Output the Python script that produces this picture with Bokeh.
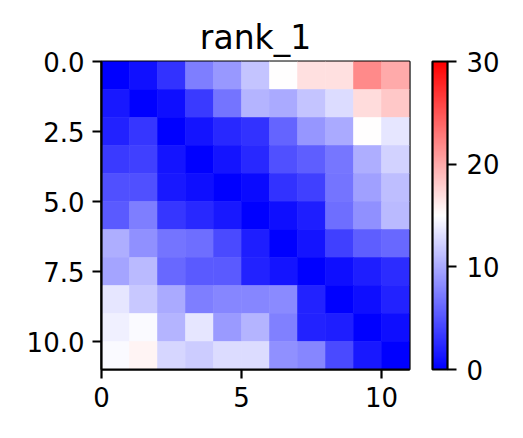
from bokeh.plotting import figure
from bokeh.models import (LinearColorMapper, ColorBar, FixedTicker, Range1d,
                          PrintfTickFormatter, ColumnDataSource)
from bokeh.transform import transform
from bokeh.embed import file_html
from bokeh.resources import INLINE

# matrix values, one list per row (top row first)
row_0 = [0.0, 1.0, 3.0, 7.4, 9.0, 11.5, 15.1, 16.8, 16.8, 21.8, 20.0]
row_1 = [1.5, 0.0, 0.9, 3.5, 6.8, 10.6, 10.0, 11.5, 13.0, 17.0, 18.2]
row_2 = [2.0, 3.2, 0.0, 1.2, 2.4, 3.0, 5.9, 8.8, 10.0, 15.1, 13.5]
row_3 = [3.5, 3.8, 1.2, 0.0, 1.2, 2.4, 4.7, 5.6, 7.0, 10.3, 12.4]
row_4 = [4.7, 4.7, 1.5, 0.9, 0.0, 0.6, 3.0, 3.8, 6.8, 9.4, 11.2]
row_5 = [5.3, 7.4, 3.2, 2.4, 1.5, 0.0, 0.9, 1.8, 6.5, 8.5, 10.9]
row_6 = [10.3, 8.5, 6.8, 6.5, 4.4, 1.8, 0.0, 1.2, 3.8, 5.6, 6.2]
row_7 = [9.7, 10.9, 6.2, 5.3, 5.3, 2.0, 1.2, 0.0, 0.9, 1.8, 2.6]
row_8 = [13.5, 11.8, 10.0, 7.4, 7.9, 7.9, 8.2, 2.0, 0.0, 0.9, 2.0]
row_9 = [14.1, 14.7, 10.6, 13.5, 9.1, 10.6, 7.6, 2.0, 1.8, 0.0, 0.9]
row_10 = [14.7, 15.7, 12.6, 12.0, 13.0, 13.0, 8.5, 7.9, 4.4, 1.5, 0.0]
rows = [row_0, row_1, row_2, row_3, row_4, row_5, row_6, row_7, row_8, row_9, row_10]

x_ticks = [0, 5, 10]
y_ticks = [0, 2.5, 5, 7.5, 10]
cbar_ticks = [0, 10, 20, 30]

# blue-white-red palette
bwr = []
for i in range(256):
    t = i / 255
    if t < 0.5:
        c = int(round(2 * t * 255))
        bwr.append("#%02x%02x%02x" % (c, c, 255))
    else:
        c = int(round((2 - 2 * t) * 255))
        bwr.append("#%02x%02x%02x" % (255, c, c))

xs, ys, vals = [], [], []
for r, row in enumerate(rows):
    for c, v in enumerate(row):
        xs.append(c + 0.5)
        ys.append(r + 0.5)
        vals.append(v)
src = ColumnDataSource(dict(x=xs, y=ys, v=vals))

mapper = LinearColorMapper(palette=bwr, low=0, high=30)

p = figure(frame_width=308, frame_height=308, output_backend="svg",
           toolbar_location=None, title="rank_1",
           x_range=Range1d(0, 11), y_range=Range1d(11, 0),
           min_border_left=101, min_border_top=61, min_border_right=10,
           min_border_bottom=58)
p.rect(x="x", y="y", width=1, height=1, source=src,
       fill_color=transform("v", mapper), line_color=transform("v", mapper),
       line_width=0.6)

p.title.align = "center"
p.title.text_font = "DejaVu Sans"
p.title.text_font_size = "33px"
p.title.text_font_style = "normal"
p.title.text_color = "black"
p.title.standoff = 10

p.grid.visible = False
p.outline_line_color = "black"
p.outline_line_width = 2.2
p.outline_line_alpha = 1

for ax in (p.xaxis[0], p.yaxis[0]):
    ax.axis_line_color = "black"
    ax.axis_line_width = 2.2
    ax.major_tick_line_color = "black"
    ax.major_tick_line_width = 2.2
    ax.major_tick_out = 9
    ax.major_tick_in = 0
    ax.minor_tick_line_color = None
    ax.major_label_text_font = "DejaVu Sans"
    ax.major_label_text_font_size = "26px"
    ax.major_label_text_color = "black"
    ax.major_label_standoff = 8
p.xaxis.ticker = FixedTicker(ticks=x_ticks)
p.yaxis.ticker = FixedTicker(ticks=y_ticks)
p.yaxis.formatter = PrintfTickFormatter(format="%.1f")

cbar = ColorBar(color_mapper=mapper, width=15, padding=0, margin=0,
                location=(23, 0),
                ticker=FixedTicker(ticks=cbar_ticks),
                bar_line_color="black", bar_line_width=2.2,
                major_tick_in=0, major_tick_out=9,
                major_tick_line_color="black", major_tick_line_width=2.2,
                minor_tick_line_color=None,
                major_label_text_font="DejaVu Sans",
                major_label_text_font_size="26px",
                major_label_text_color="black",
                label_standoff=10, background_fill_alpha=0)
p.add_layout(cbar, "right")

open("out.html", "w").write(file_html(p, INLINE))
